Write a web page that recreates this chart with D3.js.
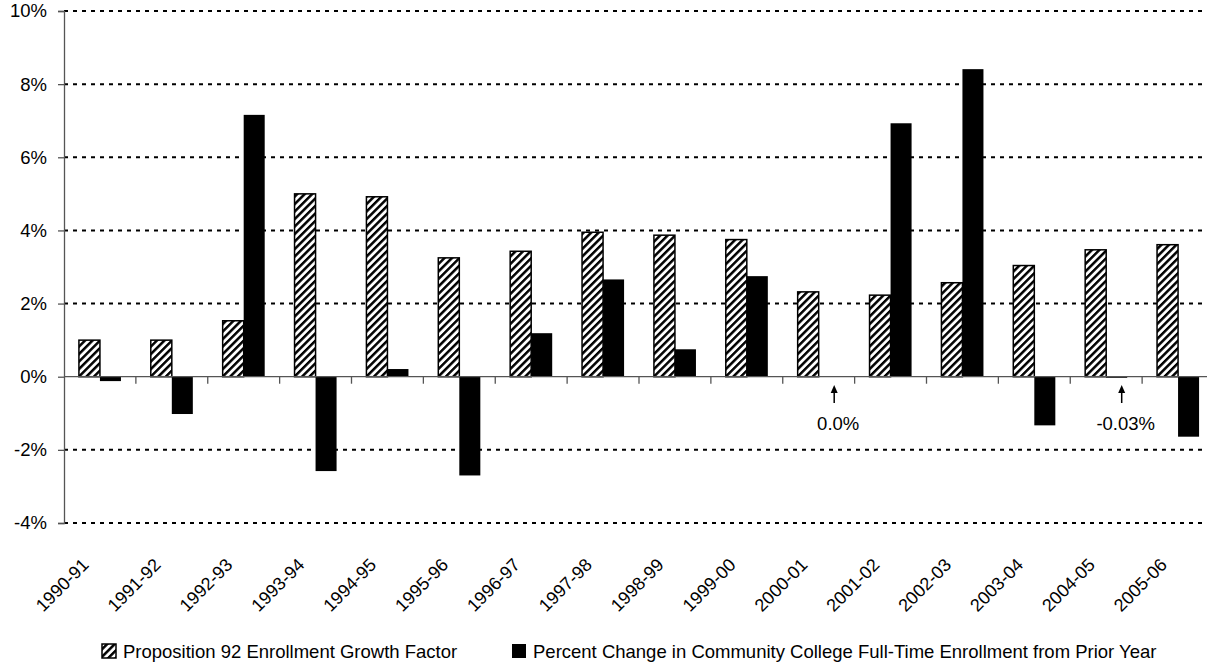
<!DOCTYPE html>
<html>
<head>
<meta charset="utf-8">
<script src="https://cdn.jsdelivr.net/npm/d3@7/dist/d3.min.js"></script>
<style>
  html, body { margin: 0; padding: 0; background: #fff; }
  svg { display: block; }
  text { font-family: "Liberation Sans", Arial, sans-serif; fill: #000; }
</style>
</head>
<body>
<svg id="chart" width="1207" height="667"></svg>
<script>
const categories = ["1990-91","1991-92","1992-93","1993-94","1994-95","1995-96","1996-97","1997-98",
                    "1998-99","1999-00","2000-01","2001-02","2002-03","2003-04","2004-05","2005-06"];
const prop92Growth = [1.0, 1.0, 1.53, 5.0, 4.92, 3.25, 3.43, 3.95, 3.87, 3.75, 2.32, 2.23, 2.57, 3.04, 3.47, 3.61];
const enrollmentChange = [-0.12, -1.02, 7.16, -2.58, 0.21, -2.7, 1.19, 2.66, 0.75, 2.75, 0.0, 6.93, 8.41, -1.33, -0.03, -1.64];
const seriesNames = ["Proposition 92 Enrollment Growth Factor",
                     "Percent Change in Community College Full-Time Enrollment from Prior Year"];
const yTicks = [-4, -2, 0, 2, 4, 6, 8, 10];
const annotations = [
  { category: "2000-01", label: "0.0%" },
  { category: "2004-05", label: "-0.03%" }
];

const FS = 18.5;
const svg = d3.select("#chart");
const defs = svg.append("defs");
const pat = defs.append("pattern")
  .attr("id", "hatch")
  .attr("patternUnits", "userSpaceOnUse")
  .attr("width", 5.3).attr("height", 10)
  .attr("patternTransform", "rotate(45)");
pat.append("rect").attr("width", 5.3).attr("height", 10).attr("fill", "#fff");
pat.append("rect").attr("width", 2.5).attr("height", 10).attr("fill", "#000");

const x0 = 64, x1 = 1214;
const x = d3.scaleBand().domain(categories).range([x0, x1]).padding(0);
const xs = d3.scaleBand().domain([0, 1]).range([0, x.bandwidth()]).paddingInner(0).paddingOuter(0.71);
const y = d3.scaleLinear().domain([-4, 10]).range([523, 11]);

// gridlines
svg.append("g").selectAll("line")
  .data(yTicks.filter(d => d !== 0))
  .join("line")
  .attr("x1", x0).attr("x2", x1)
  .attr("y1", d => y(d)).attr("y2", d => y(d))
  .attr("stroke", "#000").attr("stroke-width", 2)
  .attr("stroke-dasharray", "4,5");

// y axis
const yAxis = d3.axisLeft(y).tickValues(yTicks).tickFormat(d => d + "%").tickSize(6).tickPadding(11);
const gy = svg.append("g").attr("transform", `translate(${x0},0)`).call(yAxis);
gy.select(".domain").attr("stroke", "#555").attr("stroke-width", 1.3);
gy.selectAll(".tick line").attr("stroke", "#555").attr("stroke-width", 1.3);
gy.selectAll(".tick text").attr("font-size", FS).style("font-family", '"Liberation Sans", Arial, sans-serif');

// bars
const groups = svg.append("g").selectAll("g")
  .data(categories)
  .join("g")
  .attr("transform", d => `translate(${x(d)},0)`);

groups.append("rect")
  .attr("x", xs(0)).attr("width", xs.bandwidth())
  .attr("y", (d, i) => y(Math.max(0, prop92Growth[i])))
  .attr("height", (d, i) => Math.abs(y(prop92Growth[i]) - y(0)))
  .attr("fill", "url(#hatch)").attr("stroke", "#000").attr("stroke-width", 1.5);

groups.append("rect")
  .attr("x", xs(1)).attr("width", xs.bandwidth())
  .attr("y", (d, i) => y(Math.max(0, enrollmentChange[i])))
  .attr("height", (d, i) => Math.abs(y(enrollmentChange[i]) - y(0)))
  .attr("fill", "#000");

// x axis at zero
const gx = svg.append("g");
gx.append("line").attr("x1", x0).attr("x2", x1).attr("y1", y(0)).attr("y2", y(0))
  .attr("stroke", "#555").attr("stroke-width", 1.3);
gx.selectAll("line.tk").data(categories.slice(1).concat(["_end"]))
  .join("line").attr("class", "tk")
  .attr("x1", (d, i) => x0 + (i + 1) * x.step())
  .attr("x2", (d, i) => x0 + (i + 1) * x.step())
  .attr("y1", y(0)).attr("y2", y(0) + 7)
  .attr("stroke", "#555").attr("stroke-width", 1.3);

// x tick labels
svg.append("g").selectAll("text")
  .data(categories)
  .join("text")
  .attr("transform", d => `translate(${x(d) + x.bandwidth() / 2 - 10},566) rotate(-45)`)
  .attr("text-anchor", "end")
  .attr("font-size", 18)
  .text(d => d);

// annotations
const ann = svg.append("g");
annotations.forEach(a => {
  const cx = x(a.category) + xs(1) + xs.bandwidth() / 2 + 5;
  ann.append("line").attr("x1", cx).attr("x2", cx).attr("y1", 391).attr("y2", 403)
    .attr("stroke", "#000").attr("stroke-width", 1.5);
  ann.append("path").attr("d", `M${cx - 3.5},393 L${cx},385 L${cx + 3.5},393 Z`).attr("fill", "#000");
  ann.append("text").attr("x", cx + 4).attr("y", 430).attr("text-anchor", "middle")
    .attr("font-size", FS).text(a.label);
});

// legend
const leg = svg.append("g");
const legItems = [
  { x: 102, fill: "url(#hatch)", stroke: "#000", text: seriesNames[0] },
  { x: 512, fill: "#000", stroke: "none", text: seriesNames[1] }
];
legItems.forEach(it => {
  leg.append("rect").attr("x", it.x).attr("y", 644).attr("width", 14).attr("height", 14)
    .attr("fill", it.fill).attr("stroke", it.stroke).attr("stroke-width", 1.5);
  leg.append("text").attr("x", it.x + 21).attr("y", 658).attr("font-size", FS).text(it.text);
});
</script>
</body>
</html>
